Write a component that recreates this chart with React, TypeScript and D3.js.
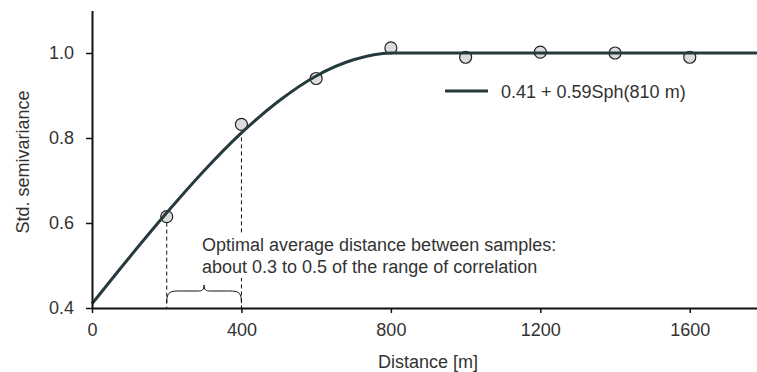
import React, { useEffect, useRef } from 'react';
import * as d3 from 'd3';

// sample semivariances (std.)
const lagDistances = [200, 400, 600, 800, 1000, 1200, 1400, 1600];
const semivariances = [0.615, 0.832, 0.94, 1.012, 0.99, 1.002, 1.0, 0.99];

// fitted model curve
const modelDistances = [0, 100, 200, 300, 400, 500, 600, 700, 800, 810, 1780];
const modelValues = [0.41, 0.519, 0.624, 0.723, 0.812, 0.887, 0.946, 0.984, 1.0, 1.0, 1.0];

const xTicks = [0, 400, 800, 1200, 1600];
const yTicks = [0.4, 0.6, 0.8, 1.0];
const legendLabel = '0.41 + 0.59Sph(810 m)';
const noteLines = [
    'Optimal average distance between samples:',
    'about 0.3 to 0.5 of the range of correlation',
];
const braceFrom = 200;
const braceTo = 400;

const App = () => {
    const svgRef = useRef();

    useEffect(() => {
        const width = 757;
        const height = 372;
        const font = 'Liberation Sans, Arial, sans-serif';
        const fontSize = 18;
        const textColor = '#333';

        const svg = d3.select(svgRef.current);
        svg.selectAll('*').remove();
        svg.attr('width', width).attr('height', height);

        const x = d3.scaleLinear().domain([0, 1780]).range([92, 757]);
        const y = d3.scaleLinear().domain([0.4, 1.1]).range([308, 10.5]);

        // dashed guides from the points down to the axis
        [braceFrom, braceTo].forEach(d => {
            const i = lagDistances.indexOf(d);
            svg.append('line')
                .attr('x1', x(d)).attr('x2', x(d))
                .attr('y1', y(semivariances[i]) + 6)
                .attr('y2', y(0.4))
                .attr('stroke', '#111')
                .attr('stroke-width', 1)
                .attr('stroke-dasharray', '4,3');
        });

        // note text (white box hides the guide behind it)
        const noteX = 202;
        svg.append('rect')
            .attr('x', noteX - 2).attr('y', 235)
            .attr('width', 370).attr('height', 43)
            .attr('fill', '#fff');
        noteLines.forEach((t, i) => {
            svg.append('text')
                .attr('x', noteX)
                .attr('y', 251 + i * 22)
                .attr('font-family', font)
                .attr('font-size', fontSize)
                .attr('fill', textColor)
                .text(t);
        });

        // curly brace between the two distances
        const bx0 = x(braceFrom), bx1 = x(braceTo), bm = (bx0 + bx1) / 2;
        const top = 291, tip = 285, bottom = 303;
        svg.append('path')
            .attr('d', `M${bx0},${bottom} C${bx0},${top} ${bx0 + 4},${top} ${bx0 + 14},${top}`
                + ` L${bm - 6},${top} C${bm - 2},${top} ${bm},${top - 1} ${bm},${tip}`
                + ` C${bm},${top - 1} ${bm + 2},${top} ${bm + 6},${top}`
                + ` L${bx1 - 14},${top} C${bx1 - 4},${top} ${bx1},${top} ${bx1},${bottom}`)
            .attr('fill', 'none')
            .attr('stroke', '#111')
            .attr('stroke-width', 1);

        // points
        svg.selectAll('.pt')
            .data(lagDistances)
            .enter().append('circle')
            .attr('class', 'pt')
            .attr('cx', d => x(d))
            .attr('cy', (d, i) => y(semivariances[i]))
            .attr('r', 6)
            .attr('fill', '#dcdcdc')
            .attr('stroke', '#222')
            .attr('stroke-width', 1.2);

        // model line
        const line = d3.line()
            .x(d => x(d[0]))
            .y(d => y(d[1]))
            .curve(d3.curveMonotoneX);
        svg.append('path')
            .datum(modelDistances.map((d, i) => [d, modelValues[i]]))
            .attr('d', line)
            .attr('fill', 'none')
            .attr('stroke', '#263a3e')
            .attr('stroke-width', 3);

        // legend
        svg.append('line')
            .attr('x1', 445).attr('x2', 488)
            .attr('y1', 91).attr('y2', 91)
            .attr('stroke', '#263a3e')
            .attr('stroke-width', 3);
        svg.append('text')
            .attr('x', 501).attr('y', 97.5)
            .attr('font-family', font)
            .attr('font-size', fontSize)
            .attr('fill', textColor)
            .text(legendLabel);

        // axes
        const xAxis = svg.append('g')
            .attr('transform', `translate(0,${y(0.4)})`)
            .call(d3.axisBottom(x).tickValues(xTicks).tickFormat(d3.format('d'))
                .tickSize(5).tickSizeOuter(0).tickPadding(10));
        const yAxis = svg.append('g')
            .attr('transform', `translate(${x(0)},0)`)
            .call(d3.axisLeft(y).tickValues(yTicks).tickFormat(d3.format('.1f'))
                .tickSize(6).tickSizeOuter(0).tickPadding(12));
        [xAxis, yAxis].forEach(a => {
            a.attr('font-family', font).attr('font-size', fontSize);
            a.select('.domain').attr('stroke', '#111').attr('stroke-width', 2);
            a.selectAll('.tick line').attr('stroke', '#111').attr('stroke-width', 1.5);
            a.selectAll('.tick text').attr('fill', textColor);
        });

        // axis titles
        svg.append('text')
            .attr('x', 428).attr('y', 368)
            .attr('text-anchor', 'middle')
            .attr('font-family', font)
            .attr('font-size', fontSize)
            .attr('fill', textColor)
            .text('Distance [m]');
        svg.append('text')
            .attr('transform', 'translate(29,162) rotate(-90)')
            .attr('text-anchor', 'middle')
            .attr('font-family', font)
            .attr('font-size', fontSize)
            .attr('fill', textColor)
            .text('Std. semivariance');
    }, []);

    return (
        <svg ref={svgRef} style={{ position: 'absolute', left: 0, top: 0, background: '#fff' }}></svg>
    );
};

export default App;
